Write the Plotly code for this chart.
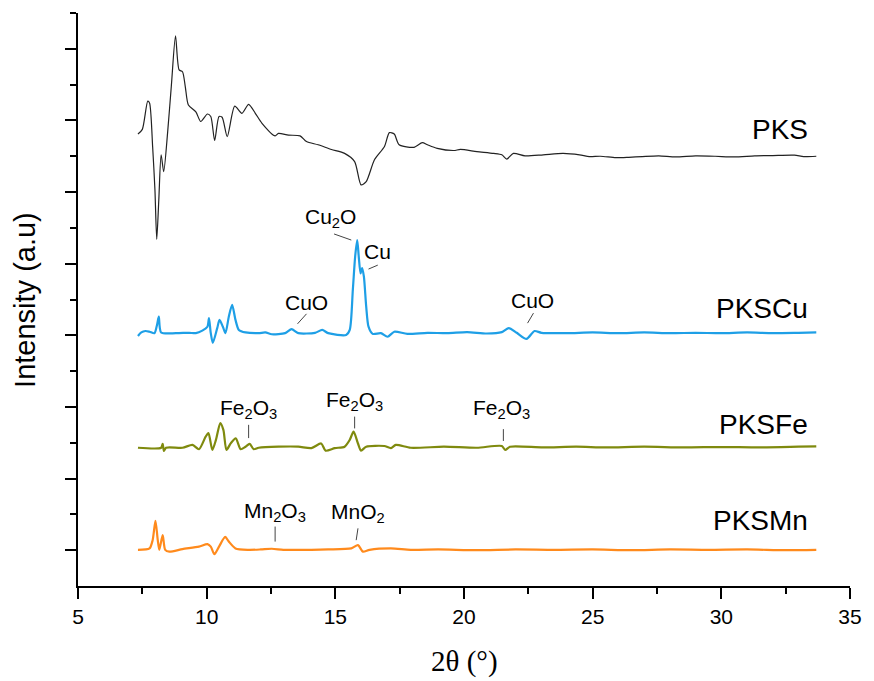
import plotly.graph_objects as go

# ---- data (y in stacked axis units) ----
pks_x = [7.33, 7.50, 7.71, 7.78, 7.90, 7.99, 8.06, 8.14, 8.23, 8.33, 8.48, 8.63, 8.79, 8.93, 9.06, 9.17,
         9.29, 9.58, 9.77, 10.03, 10.16, 10.31, 10.48, 10.60, 10.80, 11.09, 11.37, 11.63, 11.89, 12.15,
         12.66, 12.79, 13.18, 13.63, 13.88, 14.33, 14.85, 15.36, 15.75, 16.00, 16.20, 16.52, 16.91, 17.10,
         17.29, 17.48, 18.06, 18.38, 18.58, 18.96, 19.60, 19.86, 20.50, 21.15, 21.47, 21.66, 21.92, 22.37,
         23.08, 23.85, 24.49, 24.87, 25.30, 25.90, 26.40, 26.93, 27.57, 28.22, 29.00, 29.76, 30.50, 31.30,
         32.00, 32.84, 33.20, 33.69]
pks_y = [12.62, 12.75, 13.54, 13.49, 12.27, 11.06, 9.68, 10.78, 12.04, 11.57, 12.64, 13.99, 15.36, 14.41,
         14.36, 13.94, 13.43, 13.24, 12.97, 13.18, 13.11, 12.44, 13.11, 13.09, 12.55, 13.40, 13.20, 13.45,
         13.20, 12.92, 12.57, 12.64, 12.59, 12.57, 12.41, 12.32, 12.19, 12.08, 11.85, 11.20, 11.29, 11.90,
         12.27, 12.66, 12.62, 12.32, 12.25, 12.38, 12.32, 12.22, 12.16, 12.19, 12.13, 12.08, 12.04, 11.92,
         12.08, 12.01, 12.04, 12.08, 12.04, 11.99, 12.00, 11.96, 11.97, 11.99, 12.01, 11.98, 12.01, 12.00,
         11.98, 12.01, 12.02, 12.03, 11.99, 12.00]

cu_x = [7.33, 7.46, 7.62, 7.78, 7.97, 8.07, 8.14, 8.23, 8.81, 9.32, 9.58, 9.83, 10.03, 10.09, 10.16, 10.24,
        10.41, 10.50, 10.63, 10.73, 10.86, 10.99, 11.12, 11.25, 11.51, 12.02, 12.28, 12.53, 13.05, 13.30,
        13.56, 14.21, 14.49, 14.72, 15.42, 15.56, 15.68, 15.77, 15.85, 15.91, 15.98, 16.04, 16.11, 16.20,
        16.29, 16.45, 16.77, 17.03, 17.29, 17.80, 18.58, 19.35, 20.12, 20.89, 21.47, 21.74, 22.05, 22.43,
        22.74, 23.01, 24.00, 25.00, 26.00, 27.00, 28.00, 29.00, 30.00, 31.00, 32.00, 33.00, 33.69]
cu_y = [6.98, 7.08, 7.12, 7.10, 7.06, 7.29, 7.52, 7.08, 7.06, 7.07, 7.06, 7.13, 7.24, 7.48, 7.06, 6.79,
        7.20, 7.43, 7.24, 7.06, 7.52, 7.85, 7.43, 7.15, 7.08, 7.06, 7.08, 7.03, 7.06, 7.17, 7.06, 7.07,
        7.15, 7.06, 7.01, 7.15, 8.27, 9.20, 9.66, 9.20, 8.73, 8.88, 8.64, 7.80, 7.24, 7.04, 7.06, 6.96,
        7.10, 7.04, 7.07, 7.06, 7.09, 7.05, 7.09, 7.20, 7.07, 6.90, 7.12, 7.07, 7.06, 7.08, 7.06, 7.08,
        7.06, 7.07, 7.06, 7.08, 7.06, 7.07, 7.08]

fe_x = [7.33, 8.23, 8.29, 8.34, 8.42, 9.06, 9.45, 9.70, 9.96, 10.07, 10.22, 10.36, 10.53, 10.65, 10.77,
        10.94, 11.13, 11.32, 11.51, 11.67, 11.83, 12.02, 12.79, 13.56, 14.07, 14.45, 14.62, 14.98, 15.36,
        15.56, 15.71, 15.88, 16.00, 16.20, 16.90, 17.16, 17.35, 17.93, 19.22, 20.50, 21.47, 21.60, 21.79,
        23.07, 24.36, 25.50, 27.00, 28.50, 30.00, 31.50, 33.00, 33.69]
fe_y = [3.86, 3.86, 3.97, 3.77, 3.86, 3.86, 3.94, 3.82, 4.17, 4.27, 3.80, 4.08, 4.55, 4.36, 3.80, 3.99,
        4.12, 3.82, 3.89, 3.97, 3.82, 3.86, 3.89, 3.89, 3.85, 3.98, 3.78, 3.85, 3.89, 4.08, 4.31, 3.98,
        3.78, 3.89, 3.91, 3.85, 3.94, 3.86, 3.89, 3.86, 3.91, 3.80, 3.89, 3.87, 3.89, 3.87, 3.89, 3.87,
        3.88, 3.87, 3.89, 3.90]

mn_x = [7.33, 7.78, 7.90, 8.01, 8.10, 8.16, 8.29, 8.39, 8.55, 9.06, 9.70, 10.03, 10.16, 10.30, 10.48,
        10.72, 10.86, 11.12, 11.63, 12.10, 12.53, 12.98, 13.56, 14.07, 14.72, 15.62, 15.88, 16.07, 16.33,
        17.16, 17.93, 19.00, 20.50, 22.00, 23.50, 25.00, 26.50, 28.00, 29.50, 31.00, 32.50, 33.69]
mn_y = [1.01, 1.05, 1.28, 1.82, 1.28, 1.01, 1.42, 1.01, 0.96, 1.03, 1.10, 1.17, 1.10, 0.89, 1.10, 1.37,
        1.24, 1.05, 1.01, 1.02, 1.04, 1.01, 1.01, 1.01, 1.02, 1.05, 1.14, 0.96, 1.01, 1.05, 1.01, 1.02,
        1.00, 1.02, 1.01, 1.02, 1.00, 1.02, 1.01, 1.02, 1.00, 1.01]

series_names = ["PKS", "PKSCu", "PKSFe", "PKSMn"]
series_colors = ["#222222", "#1E9FE6", "#7F8A0E", "#FF8A1C"]
series_widths = [1.2, 2.2, 2.2, 2.2]
name_y = [12.76, 7.76, 4.50, 1.84]

# peak labels: text, text position, leader line start / end
peak_text = ["Cu<sub>2</sub>O", "Cu", "CuO", "CuO", "Fe<sub>2</sub>O<sub>3</sub>", "Fe<sub>2</sub>O<sub>3</sub>",
             "Fe<sub>2</sub>O<sub>3</sub>", "Mn<sub>2</sub>O<sub>3</sub>", "MnO<sub>2</sub>"]
peak_tx = [14.83, 16.65, 13.89, 22.66, 11.63, 15.76, 21.47, 12.67, 15.88]
peak_ty = [10.28, 9.33, 7.93, 7.96, 4.94, 5.17, 4.94, 2.07, 2.04]
lead_x0 = [14.95, 16.29, 13.53, 22.47, 11.63, 15.75, 21.53, 12.66, 15.81]
lead_y0 = [9.83, 8.85, 7.32, 7.34, 4.13, 4.40, 4.05, 1.24, 1.28]
lead_x1 = [15.62, 16.65, 13.88, 22.70, 11.63, 15.75, 21.53, 12.66, 15.88]
lead_y1 = [9.66, 8.96, 7.60, 7.62, 4.50, 4.73, 4.38, 1.66, 1.61]

x_ticks = [5, 10, 15, 20, 25, 30, 35]
x_minor = [7.5, 12.5, 17.5, 22.5, 27.5, 32.5]
y_major = [1, 3, 5, 7, 9, 11, 13, 15]
y_minor = [2, 4, 6, 8, 10, 12, 14, 16]

fig = go.Figure()
for xs, ys, nm, col, w in zip([pks_x, cu_x, fe_x, mn_x], [pks_y, cu_y, fe_y, mn_y],
                              series_names, series_colors, series_widths):
    fig.add_trace(go.Scatter(x=xs, y=ys, mode="lines", name=nm,
                             line=dict(color=col, width=w, shape="spline", smoothing=0.7),
                             showlegend=False))

lx, ly = [], []
for a, b, c, d in zip(lead_x0, lead_y0, lead_x1, lead_y1):
    lx += [a, c, None]
    ly += [b, d, None]
fig.add_trace(go.Scatter(x=lx, y=ly, mode="lines", line=dict(color="#444444", width=1),
                         showlegend=False, hoverinfo="skip"))

for nm, yy in zip(series_names, name_y):
    fig.add_annotation(x=33.46, y=yy, xref="x", yref="y", text=nm, showarrow=False,
                       xanchor="right", yanchor="middle",
                       font=dict(family="Liberation Sans, Arial", size=28, color="black"))

for t, tx, ty in zip(peak_text, peak_tx, peak_ty):
    fig.add_annotation(x=tx, y=ty, xref="x", yref="y", text=t, showarrow=False,
                       xanchor="center", yanchor="middle",
                       font=dict(family="Liberation Sans, Arial", size=21, color="black"))

fig.add_annotation(x=0.5, y=-0.1326, xref="paper", yref="paper", text="2θ (°)", showarrow=False,
                   xanchor="center", yanchor="middle",
                   font=dict(family="Liberation Serif, Times New Roman", size=29, color="black"))
fig.add_annotation(x=-0.0694, y=0.5, xref="paper", yref="paper", text="Intensity (a.u)", showarrow=False,
                   textangle=-90, xanchor="center", yanchor="middle",
                   font=dict(family="Liberation Sans, Arial", size=29, color="black"))

fig.update_layout(
    width=874, height=681,
    margin=dict(l=78, r=18, t=13, b=95),
    paper_bgcolor="white", plot_bgcolor="white",
    xaxis=dict(range=[5, 35], tickvals=x_ticks, ticks="outside", ticklen=11, tickwidth=1.8,
               tickcolor="black", showline=True, linecolor="black", linewidth=2, showgrid=False,
               zeroline=False, tickfont=dict(family="Liberation Sans, Arial", size=21, color="black"),
               minor=dict(tickvals=x_minor, ticks="outside", ticklen=6, tickwidth=1.8, tickcolor="black")),
    yaxis=dict(range=[0, 16], tickvals=y_major, ticks="outside", ticklen=11, tickwidth=1.8,
               tickcolor="black", showline=True, linecolor="black", linewidth=2, showgrid=False,
               zeroline=False, showticklabels=False,
               minor=dict(tickvals=y_minor, ticks="outside", ticklen=6, tickwidth=1.8, tickcolor="black")),
)

fig.write_html("out.html")
